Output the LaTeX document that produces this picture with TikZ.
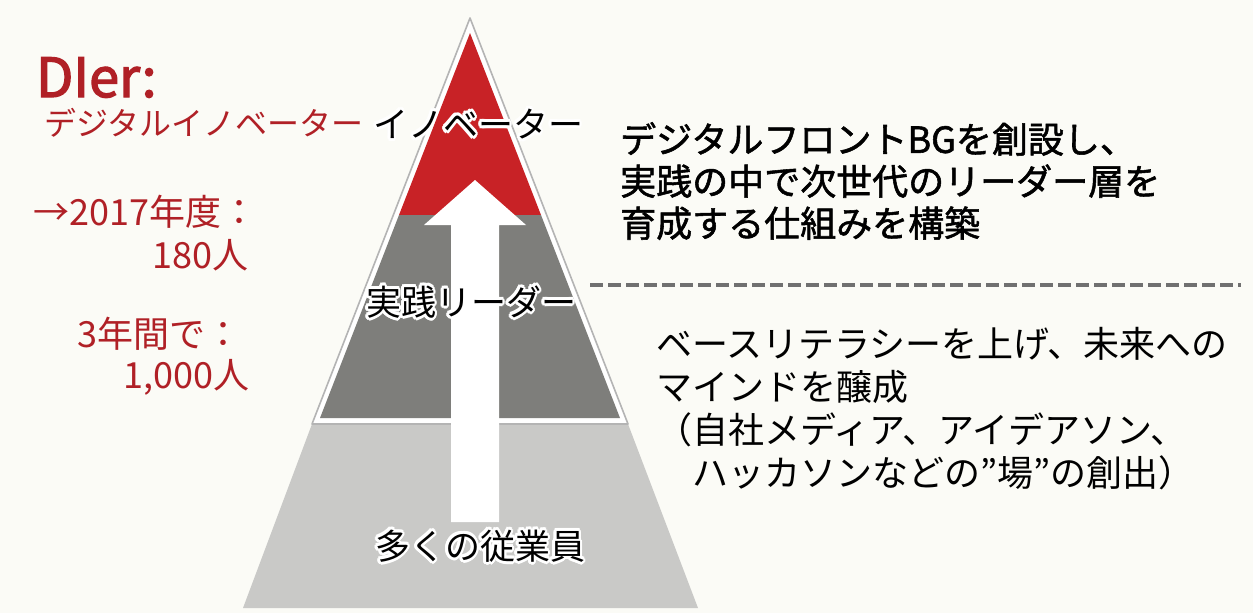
\documentclass[tikz,border=0pt]{standalone}
\usepackage{fontspec}
\setmainfont{Noto Sans CJK JP}
\newfontfamily\jpmed[FakeBold=1.5]{Noto Sans CJK JP}
\newfontfamily\jpbold[FakeBold=2.5]{Noto Sans CJK JP}
\definecolor{bgc}{RGB}{251,251,246}
\definecolor{redfill}{RGB}{200,34,38}
\definecolor{redtext}{RGB}{176,32,38}
\definecolor{darkband}{RGB}{126,126,123}
\definecolor{lightband}{RGB}{201,201,199}
\definecolor{outlinec}{RGB}{180,180,180}
\definecolor{dashc}{RGB}{112,112,112}
\tikzset{
  pyrglow/.style={text=white,font=\fontsize{35}{35}\selectfont,inner sep=0pt},
  pyrtext/.style={text=black,font=\fontsize{35}{35}\selectfont,inner sep=0pt},
  redleft/.style={text=redtext,inner sep=0pt,font=\fontsize{36}{36}\selectfont},
  bodytext/.style={text=black,inner sep=0pt,align=left,anchor=north west},
}
\newcommand\pyrlabel[3]{%
  \foreach \a in {0,22.5,...,337.5}{\node[pyrglow,shift={(\a:2.8)}] at (#1) {#3};}
  \node[pyrtext] (#2) at (#1) {#3};}
\begin{document}
\begin{tikzpicture}[x=1pt,y=-1pt]
\useasboundingbox (0,0) rectangle (1253,613);
\fill[bgc] (0,0) rectangle (1253,613);
% light gray base trapezoid
\fill[lightband] (243,608) -- (698,608) -- (628,424) -- (312,424) -- cycle;
% white outlined upper triangle
\filldraw[fill=white,draw=outlinec,line width=1.6pt,line join=round] (470,18) -- (628,424) -- (312,424) -- cycle;
% red tip
\fill[redfill] (470,33) -- (541,215) -- (399,215) -- cycle;
% dark band
\fill[darkband] (399,215) -- (541,215) -- (620,418) -- (320,418) -- cycle;
% white arrow
\fill[white] (451,522) -- (499,522) -- (499,225) -- (526,225) -- (475,180) -- (424,225) -- (451,225) -- cycle;
% pyramid labels
\pyrlabel{478,124}{inno}{イノベーター}
\pyrlabel{471,302}{leader}{実践リーダー}
\pyrlabel{480,546}{staff}{多くの従業員}
% left red texts
\node[text=redtext,inner sep=0pt,anchor=base west,font=\jpbold\fontsize{54}{54}\selectfont] (dier) at (36,97) {DIer:};
\node[redleft,anchor=west,font=\fontsize{32}{32}\selectfont] (dinno) at (44,123) {デジタルイノベーター};
\node[redleft,anchor=east] (y2017) at (258,212) {→2017年度：};
\node[redleft,anchor=east] (n180) at (249,255) {180人};
\node[redleft,anchor=east] (y3) at (242,334) {3年間で：};
\node[redleft,anchor=east] (n1000) at (250,377) {1,000人};
% right texts
\node[bodytext,font=\jpmed\fontsize{36}{42}\selectfont] (upper) at (620,122) {デジタルフロントBGを創設し、\\実践の中で次世代のリーダー層を\\育成する仕組みを構築};
\coordinate (dashL) at (590,285);
\coordinate (dashR) at (1241,285);
\draw[dashc,line width=3.2pt,dash pattern=on 13pt off 5pt] (dashL) -- (dashR);
\node[bodytext,font=\fontsize{36}{43}\selectfont] (lower) at (656,327) {ベースリテラシーを上げ、未来への\\マインドを醸成\\（自社メディア、アイデアソン、\\　ハッカソンなどの”場”の創出）};
\end{tikzpicture}
\end{document}
